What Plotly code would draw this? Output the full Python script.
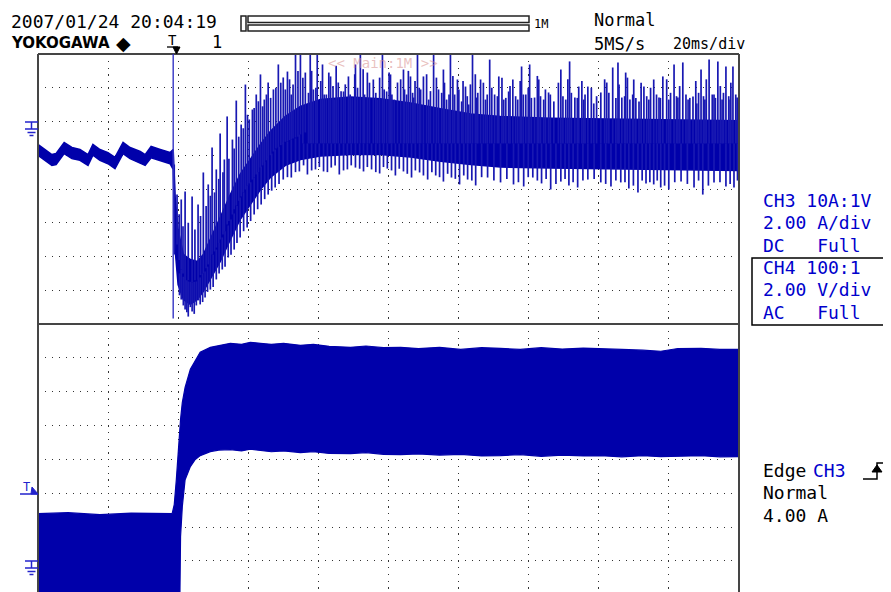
import plotly.graph_objects as go

# ================= DATA =================
# time in ms relative to trigger, 20 ms/div
# CH3 current (A), core band of the trace
ch3_t = [-38.6, -36.6, -34.6, -33.4, -31.1, -28.9, -26.6, -24.3, -22.9, -20.9, -18.6, -16.6, -14.3,
         -12.3, -9.4, -8.0, -6.3, -3.7, -0.9,
         0.0, 0.6, 1.4, 2.9, 4.9, 6.9, 8.6, 10.6, 13.4, 16.3, 19.1, 22.0, 24.9, 27.7,
         32.0, 36.3, 42.0, 50.6, 59.1, 67.7, 76.3, 84.9, 93.4, 107.7, 122.0, 136.3, 150.6, 161.4]
ch3_hi = [-1.36, -1.66, -1.96, -1.9, -1.24, -1.54, -1.66, -1.96, -1.36, -1.66, -1.84, -2.13, -1.24,
          -1.54, -1.78, -1.96, -1.48, -1.66, -1.84,
          -1.66, -4.62, -6.4, -7.88, -8.18, -8.3, -7.88, -6.99, -5.69, -4.33, -3.14, -2.25, -1.36, -0.59,
          0.3, 0.9, 1.3, 1.45, 1.35, 1.1, 0.75, 0.45, 0.3, 0.2, 0.15, 0.1, 0.05, 0.05]
ch3_lo = [-2.0, -2.3, -2.6, -2.55, -1.9, -2.2, -2.3, -2.6, -2.0, -2.3, -2.5, -2.8, -1.9,
          -2.2, -2.45, -2.6, -2.15, -2.3, -2.5,
          -2.84, -7.7, -9.66, -10.55, -10.84, -10.55, -10.07, -9.36, -8.3, -7.0, -5.81, -4.92, -4.03, -3.32,
          -2.6, -2.25, -2.05, -1.95, -1.95, -2.1, -2.35, -2.55, -2.7, -2.75, -2.8, -2.85, -2.9, -2.9]

# CH3 upward spikes during the recovery (time, base, tip)
up_early_t = [1.1, 2.3, 3.4, 5.4, 7.1, 8.6, 10.0, 11.1, 12.3, 13.4, 14.6, 15.4, 16.9, 18.0, 19.4,
              20.6, 21.7, 22.6, 23.7, 24.9, 26.0, 27.1, 28.6, 30.0, 31.4, 32.6, 33.7, 34.9, 36.3, 37.7,
              1.7, 2.8, 4.3, 6.2, 7.8, 9.4, 10.6, 11.8, 13.0, 14.2, 15.9, 17.4, 18.7,
              20.0, 21.2, 23.1, 24.3, 25.5, 26.6, 27.8, 29.3, 30.7, 32.0, 33.2, 34.2, 35.6]
up_early_tip = [-4.33, -4.62, -4.15, -4.44, -4.92, -3.02, -3.73, -1.54, -2.84, -0.71, -2.25, 0.30, -1.07, 1.24, -0.18,
                2.19, 0.12, 0.71, 1.6, 2.79, 1.30, 2.31, 1.90, 3.38, 2.61, 2.96, 1.6, 3.97, 4.0, 2.90,
                -5.5, -6.2, -6.0, -6.4, -5.6, -5.0, -4.4, -4.2, -3.4, -3.0, -2.2, -1.6, -0.9,
                -0.4, 0.4, 0.8, 1.2, 0.9, 1.6, 1.4, 2.0, 2.3, 1.9, 2.5, 2.2, 3.0]
up_early_base = [-7.29, -8.77, -9.36, -9.54, -9.36, -9.0, -8.47, -7.88, -7.47, -6.99, -6.52, -6.10, -5.51, -4.98, -4.44,
                 -4.03, -3.67, -3.44, -3.14, -2.73, -2.43, -2.13, -1.78, -1.54, -1.36, -1.19, -1.07, -0.95, -0.77, -0.65,
                 -8.2, -9.0, -9.4, -9.4, -9.1, -8.7, -8.2, -7.7, -7.2, -6.7, -5.9, -5.2, -4.7,
                 -4.2, -3.8, -3.3, -3.0, -2.6, -2.3, -2.0, -1.6, -1.4, -1.2, -1.1, -1.0, -0.9]
# later upward spikes, all rising from the middle of the band
up_late_base = -1.3
up_late_t = [39.1, 40.0, 41.1, 42.6, 43.7, 44.9, 46.0, 47.1, 48.6, 50.0,
             51.1, 52.0, 53.4, 54.6, 55.4, 57.1, 58.3, 59.7, 60.9, 62.0,
             63.1, 64.0, 65.7, 66.6, 67.7, 68.6, 69.7, 70.6, 71.4, 72.9,
             74.3, 75.7, 77.1, 78.0, 79.1, 80.3, 81.1, 82.3, 83.4, 84.3,
             85.4, 86.6, 87.7, 89.1, 90.3, 91.7, 92.9, 94.3, 95.7, 96.9,
             98.3, 99.4, 100.6, 101.7, 103.1, 104.3, 105.7, 107.1, 108.6, 110.6,
             112.0, 113.1, 114.6, 115.7, 117.1, 118.3, 120.0, 122.0, 123.7, 125.4,
             126.9, 128.0, 129.1, 130.3, 131.4, 132.9, 134.3, 135.7, 137.1, 138.6,
             139.7, 141.4, 142.9, 144.0, 145.4, 146.9, 148.3, 149.4, 150.6, 151.7,
             152.9, 154.3, 155.4, 156.6, 157.7, 158.9, 159.7, 160.9, 161.3]
up_late_tip = [4.0, 1.90, 4.0, 3.38, 1.60, 2.67, 1.30, 2.31, 1.78, 2.67,
               1.42, 3.38, 4.0, 1.60, 2.90, 2.49, 1.30, 4.0, 1.78, 2.79,
               1.30, 2.31, 3.08, 1.60, 2.67, 1.42, 4.0, 1.90, 2.67, 1.30,
               4.0, 1.90, 3.08, 1.30, 4.0, 1.60, 2.49, 1.19, 2.07, 1.01,
               4.0, 1.42, 2.49, 1.30, 3.67, 1.60, 2.67, 1.30, 1.78, 2.49,
               1.30, 3.26, 1.60, 3.38, 1.42, 2.49, 1.30, 1.72, 1.19, 3.08,
               1.30, 3.56, 1.42, 2.07, 1.30, 2.07, 1.07, 1.72, 2.31, 3.20,
               3.50, 1.42, 2.90, 1.30, 2.49, 1.19, 2.07, 1.30, 2.49, 1.42,
               2.67, 1.30, 3.38, 1.42, 3.50, 1.30, 1.48, 1.07, 3.08, 1.30,
               3.67, 1.60, 3.56, 1.30, 3.26, 1.30, 3.26, 1.42, 1.13]
# shorter spikes between the tall ones
up_mid_t = [37.0, 38.6, 39.5, 40.7, 42.1, 43.1, 44.4, 45.6, 46.5, 47.9,
            49.1, 50.5, 51.8, 52.6, 54.2, 56.0, 57.8, 58.9, 60.2, 61.6,
            62.4, 64.9, 66.0, 67.1, 68.3, 69.0, 70.2, 72.3, 73.4, 75.1,
            76.6, 77.4, 78.7, 79.8, 81.5, 82.7, 83.9, 84.8, 86.2, 86.9,
            88.5, 89.6, 90.9, 92.5, 93.8, 94.9, 96.1, 97.7, 99.0, 99.9,
            101.3, 102.2, 103.9, 104.8, 106.2, 107.6, 109.9, 111.2, 112.6, 113.6,
            115.3, 116.6, 117.5, 119.3, 120.8, 123.1, 124.3, 126.3, 127.2, 128.8,
            129.6, 131.1, 132.0, 133.5, 135.1, 136.2, 137.9, 139.0, 140.8, 141.9,
            143.6, 144.5, 146.3, 147.4, 149.1, 149.9, 151.3, 152.1, 153.8, 154.7,
            156.1, 157.0, 158.5, 159.1, 160.5]
up_mid_tip = [2.6, 1.7, 3.0, 2.0, 2.4, 1.6, 2.9, 2.1, 3.3, 1.8,
              2.2, 1.6, 2.8, 2.0, 3.1, 2.3, 1.7, 2.6, 1.9, 2.9,
              1.6, 2.5, 1.9, 3.0, 1.7, 2.4, 2.0, 2.8, 1.8, 2.6,
              1.7, 2.3, 1.6, 2.7, 1.9, 2.4, 1.5, 2.2, 2.8, 1.7,
              2.3, 1.6, 2.0, 1.5, 2.6, 1.4, 2.1, 1.5, 2.4, 1.6,
              2.0, 1.4, 2.7, 1.5, 1.9, 1.6, 2.3, 1.5, 2.5, 1.7,
              1.4, 2.4, 1.6, 2.0, 1.5, 2.5, 1.7, 1.4, 2.2, 1.5,
              2.6, 1.6, 1.4, 2.3, 1.5, 2.0, 1.6, 1.4, 2.5, 1.7,
              1.5, 2.1, 1.6, 1.4, 2.4, 1.7, 1.5, 2.5, 1.6, 1.4,
              2.1, 1.7, 1.5, 2.3, 1.6]

# CH3 downward spikes (time, base, tip)
dn_early_t = [0.3, 2.3, 3.4, 4.3, 5.4, 6.6, 7.7, 9.1, 10.6, 12.3, 14.0, 15.7, 17.4, 19.1, 21.1,
              23.1, 25.1, 27.1, 29.1, 31.4, 33.7, 36.0,
              1.8, 2.9, 3.9, 4.9, 6.0, 7.2, 8.4, 9.8, 11.4, 13.1, 14.8, 16.5, 18.2, 20.1,
              22.1, 24.1, 26.1, 28.1, 30.2, 32.6, 34.9]
dn_early_tip = [-7.88, -10.55, -11.14, -11.56, -11.26, -10.9, -10.84, -10.43, -9.96, -9.36, -8.77, -8.06, -7.59,
                -6.87, -6.28, -5.51, -4.92, -4.33, -3.91, -3.44, -3.32, -2.96,
                -10.3, -10.9, -11.3, -11.0, -11.4, -10.6, -10.7, -10.1, -9.8, -9.0, -8.6, -7.9, -7.2, -6.5,
                -5.9, -5.2, -4.6, -4.1, -3.7, -3.3, -3.0]
dn_early_base = [-2.55, -8.77, -9.24, -9.48, -9.54, -9.48, -9.24, -8.89, -8.18, -7.59, -6.87, -6.16, -5.45,
                 -4.5, -3.79, -3.32, -2.67, -2.07, -1.66, -1.24, -1.07, -0.77,
                 -9.0, -9.2, -9.4, -9.5, -9.5, -9.3, -9.0, -8.6, -7.9, -7.2, -6.5, -5.8, -5.0, -4.2,
                 -3.6, -3.0, -2.4, -1.9, -1.5, -1.2, -1.0]
dn_late_base = -1.3
dn_late_t = [38.3, 40.6, 42.9, 45.1, 47.4, 49.7, 52.0, 54.3, 56.6, 58.9, 61.1, 63.4, 65.7, 68.0, 70.3, 72.6,
             74.9, 77.1, 79.4, 81.7, 84.0, 86.3, 89.7, 93.4, 97.1, 100.0, 102.6, 105.1, 107.7, 110.6, 112.9,
             115.4, 118.3, 122.0, 124.9, 127.7, 130.0, 132.6, 134.9, 137.1, 139.1, 141.4, 144.9, 148.6,
             151.1, 154.3, 157.7, 160.0,
             37.2, 39.5, 41.7, 44.0, 46.2, 48.6, 50.8, 53.2, 55.4, 57.8, 60.0, 62.3, 64.5, 66.8, 69.1, 71.4,
             73.8, 76.0, 78.3, 80.5, 82.9, 85.2, 88.0, 91.5, 95.2, 98.5, 101.3, 103.9, 106.4, 109.2, 111.8,
             114.1, 116.9, 120.1, 123.4, 126.3, 128.9, 131.3, 133.8, 136.0, 138.1, 140.2, 143.1, 146.7,
             149.9, 152.7, 156.0, 158.9, 161.0]
dn_late_tip = [-3.14, -2.84, -2.96, -2.73, -3.14, -2.84, -2.73, -2.96, -2.84, -3.08, -2.79, -3.2, -2.96, -3.32,
               -3.02, -3.44, -3.2, -3.56, -3.32, -3.73, -3.44, -3.79, -3.32, -3.61, -3.73, -3.85, -3.32, -3.67,
               -4.03, -3.56, -3.79, -3.91, -3.44, -3.61, -3.85, -3.61, -3.97, -4.21, -3.67, -3.73, -3.91,
               -4.03, -3.56, -3.91, -4.33, -3.61, -3.85, -3.91,
               -2.6, -2.9, -2.7, -3.0, -2.6, -2.9, -2.6, -2.8, -2.7, -3.0, -2.7, -2.9, -2.8, -3.1, -2.9, -3.2,
               -3.0, -3.3, -3.1, -3.4, -3.2, -3.5, -3.3, -3.5, -3.4, -3.6, -3.3, -3.5, -3.4, -3.7, -3.4,
               -3.6, -3.5, -3.4, -3.7, -3.5, -3.6, -3.8, -3.5, -3.6, -3.5, -3.8, -3.6, -3.7,
               -3.5, -3.8, -3.6, -3.7, -3.5]

# CH4 voltage (V), envelope of the switching waveform
ch4_t = [-38.6, -30.0, -20.9, -12.0, -0.3, 0.3, 0.9, 1.4, 1.9, 2.1, 2.6, 3.4, 4.9, 6.3, 7.7,
         10.6, 13.0, 16.3, 19.5, 22.0, 24.9, 28.0, 31.5, 36.3, 40.0, 44.5, 50.6, 55.0, 60.0, 64.9, 70.0,
         76.0, 82.0, 88.0, 93.4, 99.0, 105.0, 111.0, 117.0, 122.0, 128.0, 134.0, 139.1, 144.0, 150.6,
         156.0, 161.4]
ch4_hi = [2.79, 2.85, 2.73, 2.82, 2.79, 3.32, 4.8, 6.58, 7.76, 8.36, 9.36, 10.25, 11.32, 11.79, 12.33,
          12.62, 12.74, 12.86, 12.8, 12.92, 12.86, 12.8, 12.86, 12.74, 12.8, 12.68, 12.62, 12.7, 12.6, 12.62, 12.55,
          12.62, 12.5, 12.6, 12.56, 12.5, 12.6, 12.52, 12.58, 12.56, 12.5, 12.45, 12.39, 12.55, 12.56,
          12.5, 12.5]
ch4_lo = [-2.4, -2.4, -2.4, -2.4, -2.4, -2.4, -2.4, -2.4, -2.4, 1.42, 3.2, 4.8, 5.57, 5.99, 6.22,
          6.46, 6.55, 6.58, 6.5, 6.6, 6.52, 6.45, 6.5, 6.4, 6.45, 6.35, 6.34, 6.4, 6.3, 6.28, 6.32,
          6.25, 6.3, 6.2, 6.22, 6.28, 6.18, 6.25, 6.2, 6.22, 6.15, 6.22, 6.16, 6.2, 6.22,
          6.15, 6.16]

# ================= STYLE =================
W, H = 891, 592          # window size
OFF = 8                  # page body margin of the browser
L, R, T, B = 38, 739, 54, 592   # plot area in window pixels
SPLIT = 324
TRACE = "#0000AA"
SPIKE = "#1818B2"
BLUE = "#0000CC"
FRAME = "#454545"
MONO = "DejaVu Sans Mono"


def px(x):
    return (x - L) / (R - L)


def py(y):
    return (B - y) / (B - T)


def segs(ts, a, b):
    xs, ys = [], []
    for t, y0, y1 in zip(ts, a, b):
        xs += [t, t, None]
        ys += [y0, y1, None]
    return xs, ys


fig = go.Figure()

# CH3 band
fig.add_trace(go.Scatter(x=ch3_t, y=ch3_lo, mode="lines", line=dict(color=TRACE, width=1.5),
                         xaxis="x", yaxis="y", hoverinfo="skip", showlegend=False))
fig.add_trace(go.Scatter(x=ch3_t, y=ch3_hi, mode="lines", line=dict(color=TRACE, width=1.5),
                         fill="tonexty", fillcolor=TRACE,
                         xaxis="x", yaxis="y", hoverinfo="skip", showlegend=False))
# CH3 spikes
sx, sy = [], []
for ts, bs, tips in [(up_early_t, up_early_base, up_early_tip),
                     (up_late_t, [up_late_base] * len(up_late_t), up_late_tip),
                     (up_mid_t, [up_late_base] * len(up_mid_t), up_mid_tip),
                     (dn_early_t, dn_early_base, dn_early_tip),
                     (dn_late_t, [dn_late_base] * len(dn_late_t), dn_late_tip)]:
    a, b = segs(ts, bs, tips)
    sx += a
    sy += b
fig.add_trace(go.Scatter(x=sx, y=sy, mode="lines", line=dict(color=SPIKE, width=1.7),
                         xaxis="x", yaxis="y", hoverinfo="skip", showlegend=False, connectgaps=False))

# CH4 band
fig.add_trace(go.Scatter(x=ch4_t, y=ch4_lo, mode="lines", line=dict(color=TRACE, width=1.2),
                         xaxis="x2", yaxis="y2", hoverinfo="skip", showlegend=False))
fig.add_trace(go.Scatter(x=ch4_t, y=ch4_hi, mode="lines", line=dict(color=TRACE, width=1.2),
                         fill="tonexty", fillcolor=TRACE,
                         xaxis="x2", yaxis="y2", hoverinfo="skip", showlegend=False))

split_p = py(SPLIT)
xr = [-38.57, 161.43]
grid_common = dict(showticklabels=False, ticks="", zeroline=False, showline=False,
                   showgrid=True, gridcolor="#333333", gridwidth=1.3)
fig.update_layout(
    xaxis=dict(domain=[0, 1], anchor="y", range=xr, tick0=xr[0], dtick=20,
               griddash="1.3px,5.45px", **grid_common),
    yaxis=dict(domain=[split_p, 1], anchor="x", range=[-12, 4], tick0=0, dtick=2,
               griddash="1.3px,5.7px", **grid_common),
    xaxis2=dict(domain=[0, 1], anchor="y2", range=xr, tick0=xr[0], dtick=20, matches="x",
                griddash="1.3px,5.45px", **grid_common),
    yaxis2=dict(domain=[0, split_p], anchor="x2", range=[-1.84, 14.0], tick0=0, dtick=2,
                griddash="1.3px,5.7px", **grid_common),
    width=W - OFF, height=H - OFF,
    margin=dict(l=L - OFF, r=W - R, t=T - OFF, b=H - B),
    paper_bgcolor="white", plot_bgcolor="white", showlegend=False,
)

shapes = []
# frame
for (x0, y0, x1, y1) in [(0, 0, 0, 1), (1, 0, 1, 1), (0, 1, 1, 1), (0, split_p, 1, split_p)]:
    shapes.append(dict(type="line", xref="paper", yref="paper", x0=x0, y0=y0, x1=x1, y1=y1,
                       line=dict(color=FRAME, width=2)))
# trigger position line (t = 0)
shapes.append(dict(type="line", xref="x", yref="y", x0=0, x1=0, y0=-11.67, y1=4,
                   line=dict(color="#3333C4", width=1.4)))


def pline(x0, y0, x1, y1, color, width=1.5):
    shapes.append(dict(type="line", xref="paper", yref="paper", x0=px(x0), y0=py(y0), x1=px(x1), y1=py(y1),
                       line=dict(color=color, width=width)))


def ppath(pts, color, fill=None, width=1.2):
    d = "M " + " L ".join(f"{px(x):.5f},{py(y):.5f}" for x, y in pts)
    if fill:
        d += " Z"
    shapes.append(dict(type="path", xref="paper", yref="paper", path=d,
                       line=dict(color=color, width=width), fillcolor=fill if fill else "rgba(0,0,0,0)"))


def prect(x0, y0, x1, y1, color, width=1.5):
    shapes.append(dict(type="rect", xref="paper", yref="paper", x0=px(x0), y0=py(y0), x1=px(x1), y1=py(y1),
                       line=dict(color=color, width=width)))


def ground(y0):
    c = "#2222CC"
    pline(25, y0, 38, y0, c, 1.5)
    pline(31.5, y0, 31.5, y0 + 7, c, 1.5)
    pline(25, y0 + 7, 38, y0 + 7, c, 1.5)
    pline(27.5, y0 + 10.5, 35.5, y0 + 10.5, c, 1.5)
    pline(29.5, y0 + 13.5, 33.5, y0 + 13.5, c, 1.5)


ground(122)
ground(561)
# trigger level marker
pline(20, 494, 38, 494, "#2222CC", 1.5)
ppath([(31, 494), (38, 494), (32, 487)], "#2222CC", fill="#2222CC", width=1)
# trigger position marker at top
pline(167, 47, 178, 47, "black", 1.3)
ppath([(173, 47), (180, 47), (176.5, 54)], "black", fill="black", width=1)
# record bar
prect(241, 16, 246, 31, "#222222", 1.5)
prect(248, 16, 529, 22.5, "#222222", 1.5)
prect(248, 25, 529, 31, "#222222", 1.5)
# CH4 box
prect(752, 258, 905, 325, "black", 1.5)
# edge symbol
ppath([(863, 479), (877, 479), (877, 463), (884, 463)], "black", width=1.5)
ppath([(872, 472), (882, 472), (877, 465)], "black", fill="black", width=1)
fig.update_layout(shapes=shapes)

anns = []


def text(s, x, y, color="black", size=17, family=MONO, anchor="left"):
    anns.append(dict(text=s, xref="paper", yref="paper", x=px(x), y=py(y), xanchor=anchor, yanchor="middle",
                     showarrow=False, font=dict(family=family, size=size, color=color)))


text("2007/01/24 20:04:19", 9, 21, size=18)
text("YOKOGAWA", 9, 43, size=15, family="DejaVu Sans", anchor="left")
anns[-1]["font"]["weight"] = "bold"
text("◆", 114, 43, size=19, family="DejaVu Sans")
text("T", 172.5, 40, size=14, anchor="center")
text("1", 217, 42, size=17, anchor="center")
text("1M", 532, 24, size=12)
text("Normal", 592, 20, size=17)
text("5MS/s", 592, 44, size=17)
text("20ms/div", 671, 44, size=15)
text("CH3 10A:1V", 761, 200, BLUE, 18)
text("2.00 A/div", 761, 222, BLUE, 18)
text("DC   Full", 761, 245, BLUE, 18)
text("CH4 100:1", 761, 267, BLUE, 18)
text("2.00 V/div", 761, 289, BLUE, 18)
text("AC   Full", 761, 312, BLUE, 18)
text("Edge", 761, 470, size=18)
text("CH3", 811, 470, BLUE, 18)
text("Normal", 761, 492, size=18)
text("4.00 A", 761, 515, size=18)
text("T", 26, 487, "#2222CC", 12, anchor="center")
text("<< Main:1M >>", 383, 63, "rgba(215,140,140,0.55)", 14, anchor="center")
fig.update_layout(annotations=anns)

fig.write_html("out.html", config={"displayModeBar": False})
